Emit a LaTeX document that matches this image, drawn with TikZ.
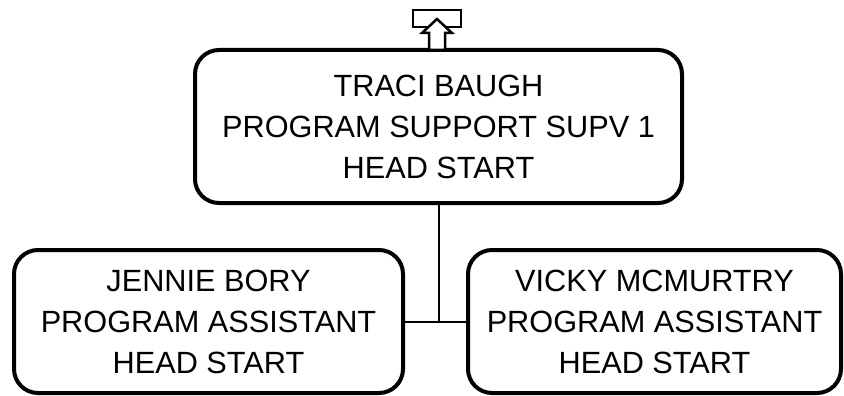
\documentclass[tikz,border=0pt]{standalone}
\usepackage{fontspec}
\setmainfont{Liberation Sans}
\usetikzlibrary{positioning}

\begin{document}
\begin{tikzpicture}[x=1pt,y=-1pt,
    person/.style={draw,line width=4pt,rounded corners=24pt,align=center,
        font=\fontsize{30.7}{41}\selectfont,inner sep=0pt},
    link/.style={line width=2pt}]
    \useasboundingbox (0,0) rectangle (844,396);

    \node[person,minimum width=487pt,minimum height=153pt] (traci) at (438.5,126.5)
        {TRACI BAUGH\\PROGRAM SUPPORT SUPV 1\\HEAD START};
    \node[person,minimum width=389pt,minimum height=143pt] (jennie) at (208.5,321.5)
        {JENNIE BORY\\PROGRAM ASSISTANT\\HEAD START};
    \node[person,minimum width=373pt,minimum height=143pt] (vicky) at (654.5,321.5)
        {VICKY MCMURTRY\\PROGRAM ASSISTANT\\HEAD START};

    % up marker above the top box
    \node[draw,line width=2.5pt,minimum width=48pt,minimum height=17pt,inner sep=0pt] (up) at (437,18.5) {};
    \draw[line width=2.5pt,fill=white,line join=miter]
        (437,19) -- (452,33) -- (445,33) -- (445,50) -- (429,50) -- (429,33) -- (422,33) -- cycle;

    \coordinate (mid) at (traci.south |- jennie.east);
    \draw[link] (traci.south) -- (mid);
    \draw[link] (jennie.east) -- (vicky.west);
\end{tikzpicture}
\end{document}
